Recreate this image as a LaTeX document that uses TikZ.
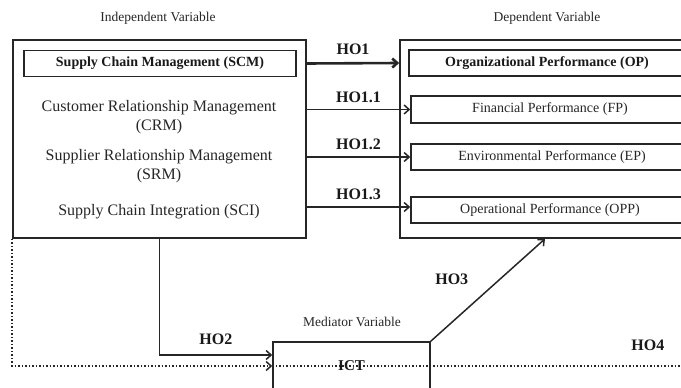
\documentclass[tikz,border=0pt]{standalone}
\usepackage{fontspec}
\setmainfont{Liberation Serif}
\usetikzlibrary{arrows.meta,calc}

\begin{document}
\begin{tikzpicture}[
  x=1pt,y=-1pt,
  >={Straight Barb[length=5pt,width=9pt]},
  box/.style={draw=black!85, line width=1.6pt, inner sep=0pt},
  caption/.style={font=\fontsize{13.5}{16}\selectfont, text=black!85},
  maintext/.style={font=\fontsize{16}{19}\selectfont, text=black!85, align=center},
  innertext/.style={font=\fontsize{14}{17}\selectfont, text=black!85},
  boldtext/.style={font=\fontsize{14}{17}\selectfont\bfseries, text=black!90},
  hlabel/.style={font=\fontsize{16}{19}\selectfont\bfseries, text=black!90},
  link/.style={->, draw=black!85, line width=1.5pt},
  mainlink/.style={->, draw=black!85, line width=2.6pt},
  dotline/.style={draw=black!85, line width=1.5pt, dotted},
  dottedlink/.style={->, dotline}
]
\useasboundingbox (0,0) rectangle (681,388);
\clip (0,0) rectangle (681,388);

% Captions
\node[caption] (ivcap) at (158,18) {Independent Variable};
\node[caption] (dvcap) at (547,18) {Dependent Variable};
\node[caption] (mvcap) at (352,322) {Mediator Variable};

% Independent variable block
\node[box, minimum width=293pt, minimum height=198pt] (iv) at (159.5,139) {};
\node[box, boldtext, minimum width=272pt, minimum height=26pt] (scm) at (160,63.5)
  {Supply Chain Management (SCM)};
\node[maintext] (crm) at (159,117.5) {Customer Relationship Management\\(CRM)};
\node[maintext] (srm) at (159,166) {Supplier Relationship Management\\(SRM)};
\node[maintext] (sci) at (159,211.5) {Supply Chain Integration (SCI)};

% Dependent variable block, runs off the right edge
\node[box, minimum width=290pt, minimum height=198pt] (dv) at (545,139) {};
\node[box, boldtext, minimum width=276pt, minimum height=26pt] (op) at (547,63)
  {Organizational Performance (OP)};
\node[box, innertext, minimum width=278pt, minimum height=27pt] (fp) at (550,109.5)
  {Financial Performance (FP)};
\node[box, innertext, minimum width=282pt, minimum height=26pt] (ep) at (552,157)
  {Environmental Performance (EP)};
\node[box, innertext, minimum width=278pt, minimum height=26pt] (opp) at (550,210)
  {Operational Performance (OPP)};

% Mediator, runs off the bottom edge
\node[box, font=\fontsize{15}{18}\selectfont\bfseries, text=black!90,
  minimum width=157pt, minimum height=48pt] (ict) at (351.5,366) {ICT};
\coordinate (ho4end) at (700,366);

% Hypotheses
\draw[mainlink] (iv.east |- scm) -- (dv.west |- op)
  node[midway, above=4pt, hlabel] {HO1};
\draw[link] (iv.east |- fp) -- (fp.west)
  node[midway, above=3pt, hlabel] {HO1.1};
\draw[link] (iv.east |- ep) -- (ep.west)
  node[midway, above=3pt, hlabel] {HO1.2};
\draw[link] ([yshift=3pt]iv.east |- opp) -- ([yshift=3pt]opp.west)
  node[midway, above=3pt, hlabel] {HO1.3};
\draw[link] (iv.south) |- ([yshift=11pt]ict.west)
  node[pos=0.75, above=6pt, hlabel] {HO2};
\draw[link] (ict.north east) -- (dv.south)
  node[pos=0.6, left=27pt, hlabel] {HO3};
\draw[dottedlink] (iv.south west) |- (ict.west);
\draw[dotline] (ict.west) -- (ho4end)
  node[pos=0.878, above=11pt, hlabel] {HO4};

\end{tikzpicture}
\end{document}
